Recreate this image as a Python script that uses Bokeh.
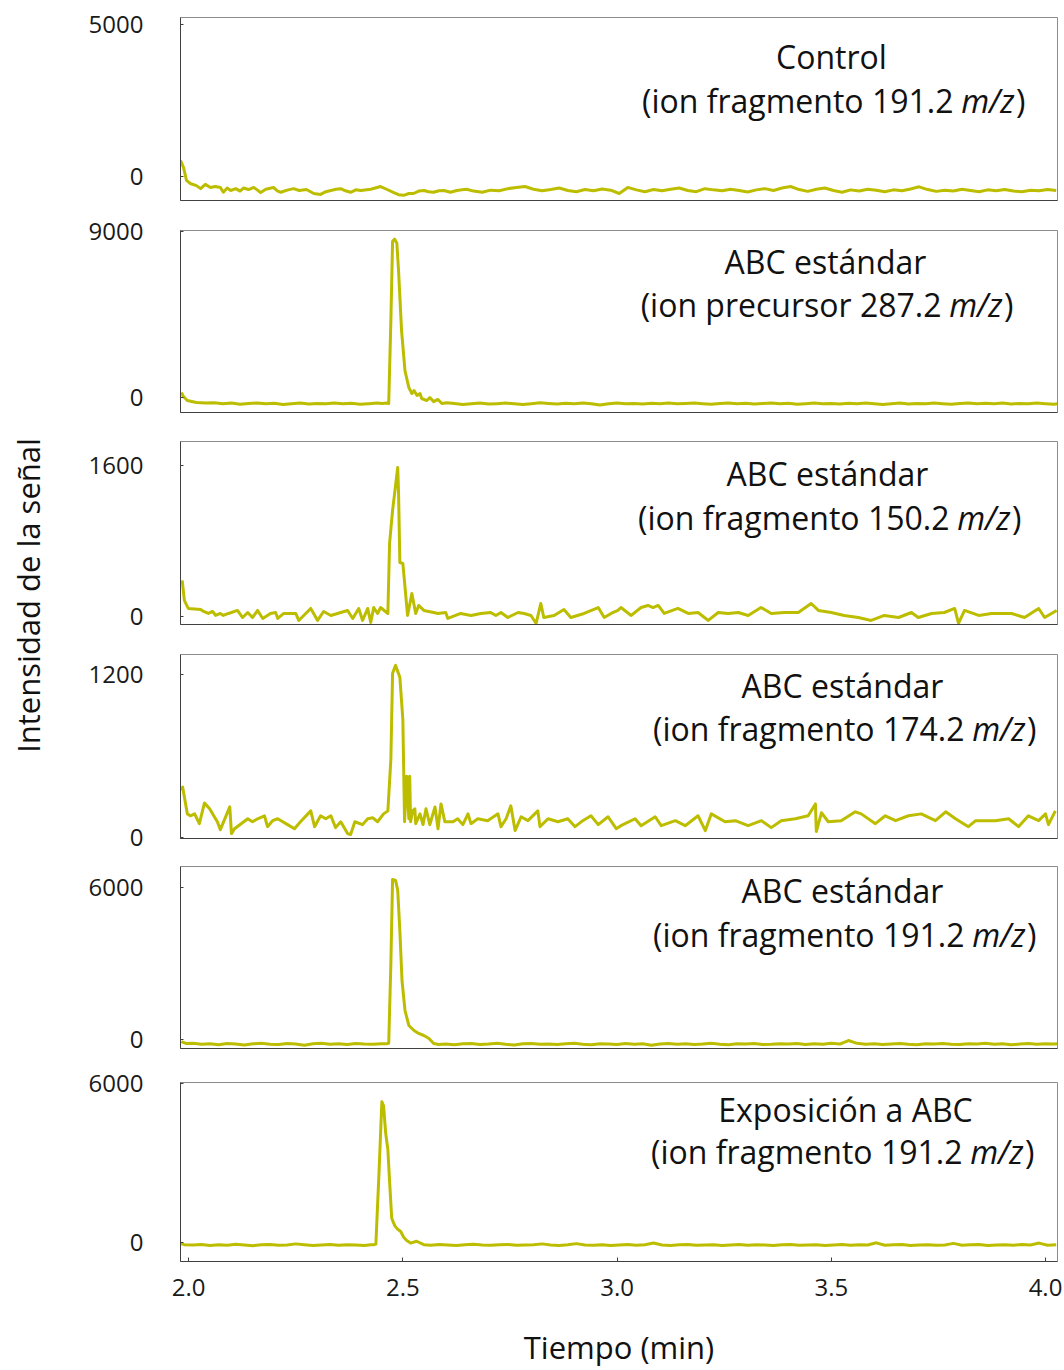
import math
from bokeh.plotting import figure
from bokeh.models import Label, LinearAxis, FixedTicker, PrintfTickFormatter, Range1d
from bokeh.layouts import row, column
from bokeh.embed import file_html
from bokeh.resources import INLINE

# ---------------- data (time in min, signal intensity) ----------------
# Panel 1: Control (ion fragmento 191.2 m/z)
t1 = [1.981, 1.988, 1.995, 2.004, 2.018, 2.028, 2.039, 2.051, 2.062, 2.074,
      2.081, 2.090, 2.098, 2.110, 2.120, 2.128, 2.140, 2.152, 2.160, 2.168,
      2.180, 2.198, 2.207, 2.215, 2.230, 2.245, 2.258, 2.275, 2.292, 2.308,
      2.320, 2.332, 2.344, 2.355, 2.366, 2.378, 2.390, 2.402, 2.425, 2.448,
      2.462, 2.479, 2.490, 2.502, 2.514, 2.525, 2.537, 2.549, 2.560, 2.572,
      2.584, 2.596, 2.611, 2.626, 2.638, 2.649,
      2.665, 2.685, 2.705, 2.725, 2.745, 2.765, 2.785, 2.805, 2.825, 2.845,
      2.865, 2.885, 2.905, 2.925, 2.945, 2.965, 2.985, 3.005, 3.025, 3.045,
      3.065, 3.085, 3.105, 3.125, 3.145, 3.165, 3.185, 3.205, 3.225, 3.245,
      3.265, 3.285, 3.305, 3.325, 3.345, 3.365, 3.385, 3.405, 3.425, 3.445,
      3.465, 3.485, 3.505, 3.525, 3.545, 3.565, 3.585, 3.605, 3.625, 3.645,
      3.665, 3.685, 3.705, 3.725, 3.745, 3.765, 3.785, 3.805, 3.825, 3.845,
      3.865, 3.885, 3.905, 3.925, 3.945, 3.965, 3.985, 4.005, 4.025]
s1 = [530, 300, -130, -230, -300, -400, -260, -360, -330, -360,
      -520, -380, -460, -400, -480, -380, -430, -360, -440, -530,
      -420, -360, -470, -520, -450, -400, -460, -430, -560, -590,
      -500, -460, -420, -400, -470, -520, -440, -460, -420, -330,
      -420, -530, -600, -620, -560, -560, -480, -460, -500, -520,
      -470, -460, -520, -460, -440, -420,
      -480, -520, -450, -470, -400, -360, -330, -420, -470, -430,
      -380, -460, -500, -430, -470, -410, -450, -560, -360, -440,
      -500, -430, -470, -420, -380, -460, -500, -400, -440, -470,
      -420, -460, -510, -440, -400, -460, -380, -330, -430, -490,
      -420, -380, -460, -520, -440, -480, -420, -450, -500, -440,
      -470, -410, -340, -430, -490, -450, -480, -420, -460, -500,
      -440, -470, -430, -480, -500, -450, -470, -430, -460]

# Panel 2: ABC estándar (ion precursor 287.2 m/z)
t2 = [1.983, 1.988, 1.997, 2.018,
      2.040, 2.060, 2.080, 2.100, 2.120, 2.140, 2.160, 2.180, 2.200, 2.220,
      2.240, 2.260, 2.280, 2.300, 2.320, 2.340, 2.360, 2.380, 2.400, 2.420, 2.440,
      2.451, 2.462, 2.467, 2.472, 2.476, 2.481, 2.486, 2.490, 2.497, 2.505,
      2.514, 2.521, 2.526, 2.533, 2.540, 2.544, 2.556, 2.563, 2.572, 2.582,
      2.591, 2.603,
      2.620, 2.640, 2.660, 2.680, 2.700, 2.720, 2.740, 2.760, 2.780, 2.800,
      2.820, 2.840, 2.860, 2.880, 2.900, 2.920, 2.940, 2.960, 2.980, 3.000,
      3.020, 3.040, 3.060, 3.080, 3.100, 3.120, 3.140, 3.160, 3.180, 3.200,
      3.220, 3.240, 3.260, 3.280, 3.300, 3.320, 3.340, 3.360, 3.380, 3.400,
      3.420, 3.440, 3.460, 3.480, 3.500, 3.520, 3.540, 3.560, 3.580, 3.600,
      3.620, 3.640, 3.660, 3.680, 3.700, 3.720, 3.740, 3.760, 3.780, 3.800,
      3.820, 3.840, 3.860, 3.880, 3.900, 3.920, 3.940, 3.960, 3.980, 4.000, 4.020,
      4.028]
s2 = [270, 54, -160, -270,
      -300, -280, -330, -300, -360, -320, -290, -340, -310, -370,
      -330, -300, -350, -320, -330, -300, -340, -310, -360, -330, -300,
      -320, -300, -320, 4150, 8460, 8570, 8350, 6850, 3610, 1450,
      540, 220, 380, 110, 220, -50, -160, 0, -220, -100,
      -320, -280,
      -320, -370, -330, -300, -350, -330, -300, -340, -380, -330,
      -280, -320, -350, -310, -340, -300, -330, -400, -330, -300,
      -340, -320, -350, -310, -330, -300, -340, -320, -290, -330,
      -360, -320, -300, -340, -310, -350, -320, -300, -340, -310,
      -360, -330, -300, -340, -320, -350, -310, -330, -300, -340,
      -380, -330, -300, -350, -320, -340, -300, -330, -360, -320,
      -300, -340, -310, -330, -300, -350, -320, -340, -300, -330, -360,
      -330]

# Panel 3: ABC estándar (ion fragmento 150.2 m/z)
t3 = [1.985, 1.990, 1.999, 2.028, 2.035, 2.046, 2.056, 2.063, 2.074, 2.081,
      2.093, 2.114, 2.126, 2.138, 2.149, 2.161, 2.173, 2.191, 2.203, 2.208,
      2.222, 2.250, 2.257, 2.285, 2.301, 2.315, 2.332, 2.355, 2.371, 2.383,
      2.397, 2.406, 2.418, 2.425, 2.432, 2.441, 2.448, 2.465, 2.469, 2.476,
      2.488, 2.490, 2.493, 2.500, 2.511, 2.521, 2.530, 2.537, 2.549, 2.572,
      2.582, 2.600, 2.605, 2.635, 2.659, 2.682, 2.705, 2.717, 2.729, 2.745,
      2.769, 2.783, 2.799, 2.811, 2.822, 2.829, 2.853, 2.876, 2.892, 2.923,
      2.956, 2.970, 2.986, 3.002, 3.009, 3.033, 3.056, 3.072, 3.084, 3.096,
      3.110, 3.142, 3.166, 3.189, 3.213, 3.236, 3.259, 3.283, 3.306, 3.336,
      3.360, 3.390, 3.423, 3.453, 3.470, 3.500, 3.530, 3.563, 3.593, 3.624,
      3.657, 3.687, 3.703, 3.734, 3.764, 3.788, 3.797, 3.811, 3.844, 3.874,
      3.921, 3.951, 3.984, 3.998, 4.026]
s3 = [382, 170, 85, 74, 53, 32, 53, 11, 32, 11,
      32, 64, -11, 42, -11, 64, -21, 32, 42, -21,
      32, 32, -42, 85, -42, 53, 11, 42, 64, -21,
      85, -42, 85, -64, 95, 32, 95, 32, 774, 1124,
      1579, 1304, 572, 562, 11, 244, 32, 117, 64, 42,
      32, 42, -21, 32, 11, 32, 42, 11, 42, -11,
      42, 32, 11, -74, 138, -11, 11, 74, -11, 32,
      95, -11, 32, 64, 95, 11, 95, 117, 95, 117,
      32, 85, 32, 42, -42, 42, 32, 42, 11, 95,
      32, 42, 42, 138, 64, 42, 11, -11, -42, 11,
      -11, 42, -11, 32, 42, 85, -74, 64, 11, 32,
      32, -11, 85, -11, 64]

# Panel 4: ABC estándar (ion fragmento 174.2 m/z)
t4 = [1.981, 1.986, 1.997, 2.004, 2.014, 2.025, 2.037, 2.049, 2.067, 2.074,
      2.096, 2.100, 2.107, 2.138, 2.149, 2.161, 2.177, 2.184, 2.196, 2.208,
      2.231, 2.247, 2.261, 2.285, 2.294, 2.308, 2.320, 2.332, 2.343, 2.355,
      2.371, 2.378, 2.388, 2.406, 2.418, 2.430, 2.441, 2.455, 2.465, 2.472,
      2.476, 2.483, 2.493, 2.500, 2.504, 2.509, 2.514, 2.516, 2.518, 2.523,
      2.528, 2.530, 2.540, 2.547, 2.554, 2.563, 2.575, 2.582, 2.589, 2.598,
      2.617, 2.628, 2.640, 2.652, 2.659, 2.675, 2.698, 2.722, 2.729, 2.741,
      2.752, 2.762, 2.776, 2.792, 2.815, 2.820, 2.839, 2.862, 2.885, 2.902,
      2.920, 2.939, 2.956, 2.979, 2.998, 3.009, 3.042, 3.056, 3.089, 3.103,
      3.136, 3.159, 3.189, 3.206, 3.220, 3.252, 3.276, 3.306, 3.337, 3.360,
      3.383, 3.416, 3.446, 3.463, 3.465, 3.477, 3.493, 3.523, 3.556, 3.570,
      3.603, 3.626, 3.650, 3.680, 3.710, 3.743, 3.767, 3.790, 3.820, 3.837,
      3.883, 3.914, 3.937, 3.960, 3.984, 4.000, 4.007, 4.023]
s4 = [350, 371, 174, 160, 174, 102, 254, 211, 116, 58,
      225, 29, 65, 138, 116, 138, 160, 80, 124, 138,
      95, 65, 116, 196, 80, 160, 138, 160, 73, 116,
      29, 22, 116, 95, 138, 145, 116, 174, 196, 574,
      1207, 1265, 1178, 865, 116, 451, 138, 451, 116, 196,
      211, 102, 174, 95, 211, 95, 225, 65, 247, 116,
      116, 138, 95, 174, 102, 138, 124, 174, 80, 138,
      233, 51, 153, 124, 196, 80, 138, 116, 138, 80,
      124, 160, 95, 153, 65, 87, 138, 87, 153, 87,
      124, 87, 160, 51, 174, 116, 124, 87, 124, 73,
      124, 138, 160, 247, 44, 182, 116, 124, 189, 174,
      102, 160, 124, 160, 174, 124, 189, 138, 80, 124,
      124, 138, 80, 160, 124, 174, 95, 196]

# Panel 5: ABC estándar (ion fragmento 191.2 m/z)
t5 = [1.983, 1.995,
      2.010, 2.030, 2.050, 2.070, 2.090, 2.110, 2.130, 2.150, 2.170, 2.190,
      2.210, 2.230, 2.250, 2.270, 2.290, 2.310, 2.330, 2.350, 2.370, 2.390,
      2.410, 2.430, 2.450,
      2.462, 2.467, 2.472, 2.476, 2.483, 2.488, 2.493, 2.498, 2.505, 2.514,
      2.526, 2.537, 2.549, 2.561, 2.572, 2.584,
      2.600, 2.620, 2.640, 2.660, 2.680, 2.700, 2.720, 2.740, 2.760, 2.780,
      2.800, 2.820, 2.840, 2.860, 2.880, 2.900, 2.920, 2.940, 2.960, 2.980,
      3.000, 3.020, 3.040, 3.060, 3.080, 3.100, 3.120, 3.140, 3.160, 3.180,
      3.200, 3.220, 3.240, 3.260, 3.280, 3.300, 3.320, 3.340, 3.360, 3.380,
      3.400, 3.420, 3.440, 3.460, 3.480, 3.500, 3.520, 3.540, 3.560, 3.580,
      3.600, 3.620, 3.640, 3.660, 3.680, 3.700, 3.720, 3.740, 3.760, 3.780,
      3.800, 3.820, 3.840, 3.860, 3.880, 3.900, 3.920, 3.940, 3.960, 3.980,
      4.000, 4.020, 4.028]
s5 = [-80, -160,
      -150, -190, -170, -210, -160, -180, -220, -170, -150, -190,
      -200, -160, -180, -230, -170, -150, -190, -170, -200, -160,
      -180, -190, -170,
      -170, -150, 3000, 6320, 6280, 5885, 4300, 2330, 1145, 553,
      356, 240, 158, 40, -158, -200,
      -180, -210, -170, -160, -200, -180, -150, -190, -220, -170,
      -160, -190, -180, -200, -170, -150, -190, -210, -170, -180,
      -200, -160, -190, -170, -230, -180, -160, -190, -170, -200,
      -180, -150, -190, -210, -170, -180, -160, -200, -190, -170,
      -180, -160, -200, -170, -190, -150, -180, -40, -150, -190,
      -170, -200, -180, -160, -190, -210, -170, -180, -160, -190,
      -200, -170, -180, -150, -190, -170, -210, -180, -160, -190,
      -170, -180, -170]

# Panel 6: Exposición a ABC (ion fragmento 191.2 m/z)
t6 = [1.981, 1.990,
      2.010, 2.030, 2.050, 2.070, 2.090, 2.110, 2.130, 2.150, 2.170, 2.190,
      2.210, 2.230, 2.250, 2.270, 2.290, 2.310, 2.330, 2.350, 2.370, 2.390, 2.410,
      2.425, 2.432, 2.437, 2.444, 2.451, 2.455, 2.460, 2.465, 2.469, 2.474,
      2.481, 2.488, 2.495, 2.502, 2.509, 2.518, 2.532, 2.549,
      2.565, 2.585, 2.605, 2.625, 2.645, 2.665, 2.685, 2.705, 2.725, 2.745,
      2.765, 2.785, 2.805, 2.825, 2.845, 2.865, 2.885, 2.905, 2.925, 2.945,
      2.965, 2.985, 3.005, 3.025, 3.045, 3.065, 3.085, 3.105, 3.125, 3.145,
      3.165, 3.185, 3.205, 3.225, 3.245, 3.265, 3.285, 3.305, 3.325, 3.345,
      3.365, 3.385, 3.405, 3.425, 3.445, 3.465, 3.485, 3.505, 3.525, 3.545,
      3.565, 3.585, 3.605, 3.625, 3.645, 3.665, 3.685, 3.705, 3.725, 3.745,
      3.765, 3.785, 3.805, 3.825, 3.845, 3.865, 3.885, 3.905, 3.925, 3.945,
      3.965, 3.985, 4.005, 4.025]
s6 = [-60, -100,
      -110, -90, -130, -100, -120, -80, -110, -140, -100, -90,
      -120, -110, -70, -100, -130, -110, -90, -120, -100, -110, -130,
      -100, -100, -80, 2500, 5300, 5150, 4100, 3500, 2300, 900,
      620, 480, 400, 180, 60, -40, 30, -100,
      -120, -90, -110, -130, -100, -80, -110, -120, -100, -90,
      -120, -110, -100, -70, -110, -130, -100, -60, -110, -120,
      -100, -130, -110, -90, -120, -100, -40, -110, -130, -100,
      -90, -120, -110, -100, -130, -110, -90, -120, -100, -110,
      -130, -100, -90, -120, -110, -100, -130, -110, -90, -120,
      -100, -110, -30, -120, -100, -90, -130, -110, -100, -120,
      -110, -50, -120, -100, -90, -130, -110, -100, -120, -90,
      -110, -40, -120, -100]

SERIES = [(t1, s1), (t2, s2), (t3, s3), (t4, s4), (t5, s5), (t6, s6)]
Y_TICKS = [[0, 5000], [0, 9000], [0, 1600], [0, 1200], [0, 6000], [0, 6000]]
X_TICKS = [2.0, 2.5, 3.0, 3.5, 4.0]
TITLE1 = ["Control", "ABC estándar", "ABC estándar", "ABC estándar",
          "ABC estándar", "Exposición a ABC"]
TITLE2 = ["(ion fragmento 191.2", "(ion precursor 287.2", "(ion fragmento 150.2",
          "(ion fragmento 174.2", "(ion fragmento 191.2", "(ion fragmento 191.2"]

# ---------------- layout / style ----------------
X_START, X_END = 1.981, 4.028
Y_RANGES = [(-790, 5230), (-808, 9040), (-85, 1855), (-7, 1345), (-355, 6829), (-736, 6030)]
FRAME_L, FRAME_R = 180, 1057
BOX_Y = [(17, 200), (230, 412), (441, 624), (654, 838), (866, 1048), (1082, 1265)]
FIG_Y = [(0, 215), (215, 426), (426, 639), (639, 852), (852, 1065), (1065, 1370)]
T1_CX = [831, 825, 827, 842, 842, 845]
T1_Y = [56, 261, 473, 685, 890, 1110]
T2_R = [1025, 1013, 1021, 1036, 1036, 1034]
T2_Y = [100, 304, 517, 728, 934, 1153]
YFIG_W = 50
TOTAL_W = 1064
LINE_COLOR = "#bdbd00"
FONT = "Open Sans"
DARK = "#404040"


def px2x(px):
    return X_START + (px - FRAME_L) / (FRAME_R - FRAME_L) * (X_END - X_START)


def py2y(i, py):
    t, b = BOX_Y[i]
    y0, y1 = Y_RANGES[i]
    return y1 - (py - t) / (b - t) * (y1 - y0)


def label(i, px, py, text, align, style="normal"):
    return Label(x=px2x(px), y=py2y(i, py), text=text, text_font=FONT,
                 text_font_size="32px", text_font_style=style, text_color="#111111",
                 text_align=align, text_baseline="middle")


panels = []
for i, (t, s) in enumerate(SERIES):
    tp, b = BOX_Y[i]
    fy0, fy1 = FIG_Y[i]
    last = (i == len(SERIES) - 1)
    p = figure(width=TOTAL_W - YFIG_W, height=fy1 - fy0,
               x_range=Range1d(X_START, X_END), y_range=Range1d(*Y_RANGES[i]),
               output_backend="svg", toolbar_location=None,
               x_axis_location=("below" if last else None), y_axis_location="left",
               min_border_left=FRAME_L - YFIG_W, min_border_right=TOTAL_W - FRAME_R,
               min_border_top=tp - fy0, min_border_bottom=fy1 - b)
    p.grid.visible = False
    p.outline_line_color = "#8c8c8c"
    p.outline_line_width = 1
    p.background_fill_color = "white"
    p.border_fill_color = "white"

    ya = p.yaxis[0]
    ya.ticker = FixedTicker(ticks=Y_TICKS[i])
    ya.major_label_text_font = FONT
    ya.major_label_text_font_size = "24px"
    ya.major_label_text_color = "#1a1a1a"
    ya.major_tick_in = 3
    ya.major_tick_out = 0
    ya.minor_tick_in = 0
    ya.minor_tick_out = 0
    ya.major_label_standoff = 37
    ya.axis_line_color = DARK
    ya.major_tick_line_color = DARK

    if last:
        xa = p.xaxis[0]
        xa.ticker = FixedTicker(ticks=X_TICKS)
        xa.formatter = PrintfTickFormatter(format="%.1f")
        xa.major_label_text_font = FONT
        xa.major_label_text_font_size = "24px"
        xa.major_label_text_color = "#1a1a1a"
        xa.major_tick_in = 4
        xa.major_tick_out = 0
        xa.minor_tick_in = 0
        xa.minor_tick_out = 0
        xa.major_label_standoff = 17
        xa.axis_line_color = DARK
        xa.major_tick_line_color = DARK
        xa.axis_label = "Tiempo (min)"
        xa.axis_label_text_font = FONT
        xa.axis_label_text_font_size = "31px"
        xa.axis_label_text_font_style = "normal"
        xa.axis_label_text_color = "#111111"
        xa.axis_label_standoff = 27
    else:
        xb = LinearAxis(ticker=FixedTicker(ticks=[]), axis_line_color=DARK,
                        major_label_standoff=0, major_tick_out=0, minor_tick_out=0)
        p.add_layout(xb, "below")

    p.line(t, s, line_color=LINE_COLOR, line_width=3, line_join="round")

    R = T2_R[i]
    p.add_layout(label(i, T1_CX[i], T1_Y[i], TITLE1[i], "center"))
    p.add_layout(label(i, R, T2_Y[i], ")", "right"))
    p.add_layout(label(i, R - 11, T2_Y[i], "m/z", "right", "italic"))
    p.add_layout(label(i, R - 11 - 54 - 7, T2_Y[i], TITLE2[i], "right"))
    panels.append(p)

# y-axis title column
yfig = figure(width=YFIG_W, height=1370, x_range=Range1d(0, YFIG_W), y_range=Range1d(0, 1370),
              output_backend="svg", toolbar_location=None,
              x_axis_location=None, y_axis_location=None, min_border=0)
yfig.min_border_left = 0
yfig.min_border_right = 0
yfig.min_border_top = 0
yfig.min_border_bottom = 0
yfig.grid.visible = False
yfig.outline_line_color = None
yfig.add_layout(Label(x=27, y=1370 - 595, text="Intensidad de la señal", angle=math.pi / 2,
                      text_font=FONT, text_font_size="31px", text_color="#111111",
                      text_align="center", text_baseline="middle"))

layout = row(yfig, column(*panels, spacing=0), spacing=0)

with open("out.html", "w") as f:
    f.write(file_html(layout, INLINE))
